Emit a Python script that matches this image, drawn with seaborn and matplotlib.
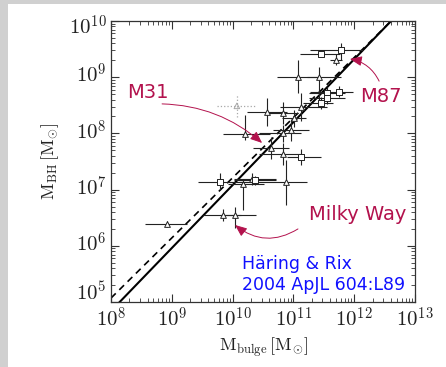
import numpy as np
import pandas as pd
import matplotlib
matplotlib.use("Agg")
import matplotlib.pyplot as plt
import seaborn as sns
from matplotlib.patches import Rectangle
from matplotlib.transforms import ScaledTranslation
from matplotlib.ticker import LogLocator, FuncFormatter, NullFormatter

# =========================================================
# DADOS (log10 das massas)
# =========================================================
# triangulos: log M_bulge, log M_BH, erros assimetricos (dex)
tri_lx = [8.92, 9.84, 10.04, 10.17, 10.32, 10.88, 10.20, 10.57, 10.83, 11.13,
          11.01, 10.96, 10.83, 10.63, 10.83, 11.08, 11.42, 11.70]
tri_ly = [6.39, 6.55, 6.55, 7.10, 7.19, 7.14, 7.99, 8.38, 8.36, 8.47,
          8.27, 8.06, 8.00, 7.74, 7.63, 9.00, 9.00, 9.31]
tri_xlo = [0.36, 0.33, 0.25, 0.25, 0.30, 0.76, 0.36, 0.34, 0.25, 0.35,
           0.20, 0.30, 0.40, 0.30, 0.40, 0.35, 0.19, 0.10]
tri_xhi = [0.33, 0.30, 0.35, 0.35, 0.40, 0.34, 0.41, 0.33, 0.25, 0.42,
           0.20, 0.30, 0.30, 0.30, 0.30, 0.36, 0.36, 0.10]
tri_ylo = [0.05, 0.10, 0.23, 0.46, 0.10, 0.41, 0.10, 0.25, 0.20, 0.25,
           0.15, 0.20, 0.15, 0.20, 0.20, 0.28, 0.45, 0.10]
tri_yhi = [0.06, 0.10, 0.14, 0.07, 0.10, 0.39, 0.34, 0.25, 0.20, 0.25,
           0.15, 0.20, 0.15, 0.20, 0.20, 0.31, 0.19, 0.10]

# quadrados
sq_lx = [9.79, 10.37, 11.13, 11.45, 11.78, 11.55, 11.75, 11.55, 11.45]
sq_ly = [7.14, 7.17, 7.58, 9.41, 9.48, 8.72, 8.74, 8.63, 8.54]
sq_xlo = [0.36, 0.35, 0.23, 0.34, 0.50, 0.30, 0.48, 0.30, 0.30]
sq_xhi = [0.38, 0.35, 0.33, 0.32, 0.36, 0.30, 0.23, 0.30, 0.20]
sq_ylo = [0.15, 0.08, 0.15, 0.05, 0.18, 0.10, 0.10, 0.10, 0.10]
sq_yhi = [0.15, 0.08, 0.15, 0.05, 0.12, 0.10, 0.10, 0.10, 0.10]

# ponto excluido (cinza pontilhado)
exc_lx = [10.07]
exc_ly = [8.49]
exc_xlo, exc_xhi = [0.33], [0.30]
exc_ylo, exc_yhi = [0.20], [0.19]

# ajustes: log M_BH = a + b (log M_bulge - 11)
FIT_SOLID = (8.20, 1.12)
FIT_DASHED = (8.28, 1.07)

COR_ROTULO = "#b3124d"
COR_CITACAO = "#1010ff"


def erros_lineares(lx, ly, xlo, xhi, ylo, yhi):
    lx, ly = np.array(lx), np.array(ly)
    x, y = 10 ** lx, 10 ** ly
    xerr = [x - 10 ** (lx - np.array(xlo)), 10 ** (lx + np.array(xhi)) - x]
    yerr = [y - 10 ** (ly - np.array(ylo)), 10 ** (ly + np.array(yhi)) - y]
    return x, y, xerr, yerr


def main():
    sns.set_style("ticks")
    plt.rcParams["mathtext.fontset"] = "cm"
    plt.rcParams["font.family"] = ["DejaVu Sans"]

    fig = plt.figure(figsize=(4.46, 3.67), dpi=100)
    ax = fig.add_axes([111 / 446, 1 - 302 / 367, 304 / 446, 281 / 367])

    # faixas cinzas da moldura
    fig.add_artist(Rectangle((0, 1 - 4 / 367), 1, 4 / 367, transform=fig.transFigure,
                             color="#d0d0d0", lw=0))
    fig.add_artist(Rectangle((0, 0), 8 / 446, 1, transform=fig.transFigure,
                             color="#d0d0d0", lw=0))

    # linhas de ajuste
    lgrid = np.linspace(8, 13, 200)
    fits = pd.DataFrame({
        "Mbulge": np.concatenate([10 ** lgrid, 10 ** lgrid]),
        "Mbh": np.concatenate([10 ** (FIT_SOLID[0] + FIT_SOLID[1] * (lgrid - 11)),
                               10 ** (FIT_DASHED[0] + FIT_DASHED[1] * (lgrid - 11))]),
        "fit": ["solid"] * len(lgrid) + ["dashed"] * len(lgrid),
    })
    sns.lineplot(data=fits[fits.fit == "solid"], x="Mbulge", y="Mbh", color="black",
                 lw=1.5, ax=ax, sort=False)
    sns.lineplot(data=fits[fits.fit == "dashed"], x="Mbulge", y="Mbh", color="black",
                 lw=1.2, ax=ax, sort=False, linestyle=(0, (4, 3)))

    # barras de erro
    x, y, xe, ye = erros_lineares(exc_lx, exc_ly, exc_xlo, exc_xhi, exc_ylo, exc_yhi)
    eb = ax.errorbar(x, y, xerr=xe, yerr=ye, fmt="none", ecolor="#a8a8a8", elinewidth=0.9)
    for c in eb[2]:
        c.set_linestyle(":")
    sns.scatterplot(x=x, y=y, marker="^", s=16, facecolor="none", edgecolor="#a8a8a8",
                    linewidth=0.7, ax=ax)

    x, y, xe, ye = erros_lineares(tri_lx, tri_ly, tri_xlo, tri_xhi, tri_ylo, tri_yhi)
    ax.errorbar(x, y, xerr=xe, yerr=ye, fmt="none", ecolor="#222222", elinewidth=0.8)
    sns.scatterplot(x=x, y=y, marker="^", s=17, facecolor="white", edgecolor="#222222",
                    linewidth=0.7, ax=ax, zorder=3)

    x, y, xe, ye = erros_lineares(sq_lx, sq_ly, sq_xlo, sq_xhi, sq_ylo, sq_yhi)
    ax.errorbar(x, y, xerr=xe, yerr=ye, fmt="none", ecolor="#222222", elinewidth=0.8)
    sns.scatterplot(x=x, y=y, marker="s", s=17, facecolor="white", edgecolor="#222222",
                    linewidth=0.7, ax=ax, zorder=3)

    ax.set_xscale("log")
    ax.set_yscale("log")
    ax.set_xlim(1e8, 1e13)
    ax.set_ylim(1e5, 1e10)

    fmt = FuncFormatter(lambda v, p: r"$10^{%d}$" % round(np.log10(v)))
    for eixo in (ax.xaxis, ax.yaxis):
        eixo.set_major_locator(LogLocator(base=10, numticks=10))
        eixo.set_minor_locator(LogLocator(base=10, subs=np.arange(2, 10), numticks=20))
        eixo.set_major_formatter(fmt)
        eixo.set_minor_formatter(NullFormatter())
    ax.tick_params(which="both", direction="in", top=True, right=True, colors="#333333",
                   labelcolor="#222222", labelsize=15)
    ax.tick_params(which="major", length=6, width=0.8)
    ax.tick_params(which="minor", length=3, width=0.6)
    ax.tick_params(axis="x", pad=3)
    ax.tick_params(axis="y", pad=3)
    for s in ax.spines.values():
        s.set_linewidth(0.9)
        s.set_color("#333333")

    ax.set_xlabel(r"$\mathrm{M_{bulge}\,[M_{\odot}]}$", fontsize=13, labelpad=4,
                  color="#222222")
    ax.set_ylabel(r"$\mathrm{M_{BH}\,[M_{\odot}]}$", fontsize=13, labelpad=6,
                  color="#222222")

    # desloca os rotulos do eixo y para centrar a base "10" no tick
    fig.canvas.draw()
    for tick in ax.yaxis.get_major_ticks():
        v = tick.get_loc()
        dy = 3
        if np.isclose(v, 1e5):
            dy = 8
        elif np.isclose(v, 1e10):
            dy = -3
        lab = tick.label1
        lab.set_transform(lab.get_transform() + ScaledTranslation(0, dy / 72, fig.dpi_scale_trans))

    # anotacoes
    seta = dict(arrowstyle="-|>,head_length=0.6,head_width=0.25", color=COR_ROTULO,
                lw=0.7, mutation_scale=12, shrinkA=0, shrinkB=0)
    ax.text(0.122, 0.744, "M31", transform=ax.transAxes, fontsize=14,
            color=COR_ROTULO, ha="center", va="center")
    ax.annotate("", xy=(0.497, 0.566), xytext=(0.168, 0.705), xycoords="axes fraction",
                arrowprops=dict(seta, connectionstyle="arc3,rad=-0.18"))
    ax.text(0.888, 0.733, "M87", transform=ax.transAxes, fontsize=14,
            color=COR_ROTULO, ha="center", va="center")
    ax.annotate("", xy=(0.786, 0.865), xytext=(0.882, 0.786), xycoords="axes fraction",
                arrowprops=dict(seta, connectionstyle="arc3,rad=0.25"))
    ax.text(0.813, 0.313, "Milky Way", transform=ax.transAxes, fontsize=14,
            color=COR_ROTULO, ha="center", va="center")
    ax.annotate("", xy=(0.408, 0.274), xytext=(0.615, 0.260), xycoords="axes fraction",
                arrowprops=dict(seta, connectionstyle="arc3,rad=-0.35"))
    ax.text(0.431, 0.03, "Häring & Rix\n2004 ApJL 604:L89", transform=ax.transAxes,
            fontsize=12.5, color=COR_CITACAO, ha="left", va="bottom", linespacing=1.15)

    fig.savefig("out.png", dpi=100)
    plt.close(fig)


if __name__ == "__main__":
    main()
